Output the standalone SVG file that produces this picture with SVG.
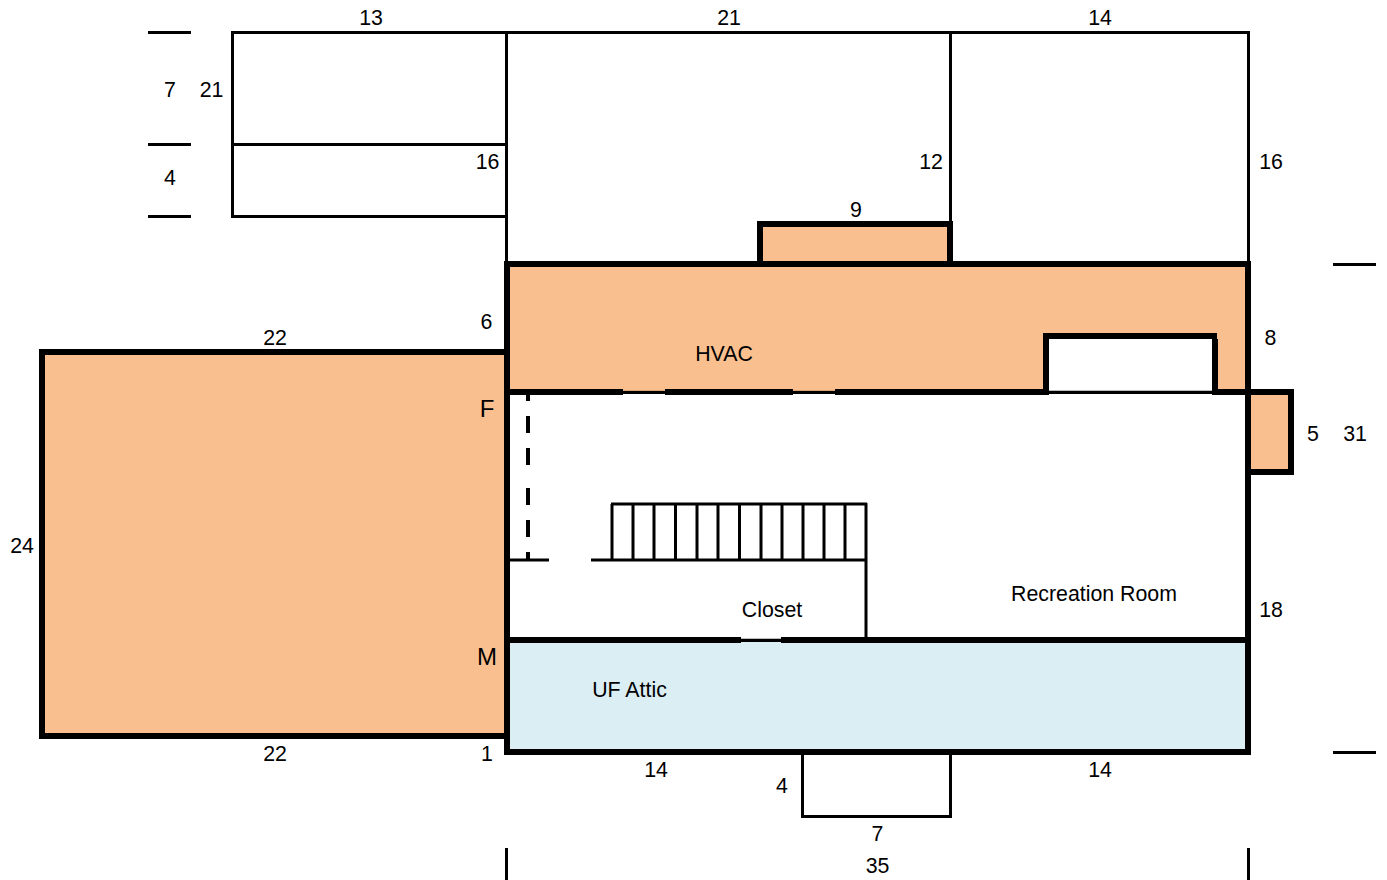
<svg xmlns="http://www.w3.org/2000/svg" width="1387" height="880" viewBox="0 0 1387 880">
<style>
text{font-family:"Liberation Sans",Arial,sans-serif;font-size:21.33px;fill:#000;text-anchor:middle}
.big{font-size:24px}
.t{fill:none;stroke:#000;stroke-width:3}
.o{fill:#f9bf8f;stroke:#000;stroke-width:6}
.b{fill:#daeef3;stroke:#000;stroke-width:6}
.h{fill:none;stroke:#000;stroke-width:6}
.g{fill:none;stroke:#000;stroke-width:3}
.e{fill:none;stroke:#bbb;stroke-width:1}
.br{fill:none;stroke:#d9a070;stroke-width:1}
</style>
<rect width="1387" height="880" fill="#fff"/>
<g id="upper-rooms">
<rect class="t" x="232.500" y="32.500" width="274" height="184"/>
<path class="t" d="M232 144.500H506"/>
<rect class="t" x="506.500" y="32.500" width="444" height="232"/>
<rect class="t" x="950.500" y="32.500" width="298" height="232"/>
</g>
<g id="left-wing"><rect class="o" x="42" y="352" width="465" height="384"/></g>
<g id="hvac">
<rect class="o" x="760" y="224" width="190" height="40"/>
<rect class="o" x="507" y="264" width="741" height="128"/>
<rect class="o" x="1248" y="392" width="43" height="80"/>
</g>
<g id="rec">
<rect x="510" y="391" width="735" height="249" fill="#fff"/>
<path d="M623 388H665V390H623ZM793 388H835V390H793Z" fill="#f9bf8f"/>
<path d="M1046 336H1215V391H1046Z" fill="#fff"/>
<path class="h" d="M1046 395V336H1217M1215 339V392"/>
<path class="h" d="M507 392H623M665 392H793M835 392H1049M1212 392H1248"/>
<path class="g" d="M623 392.500H665M793 392.500H835M1049 392.500H1212"/>
<path class="e" d="M1049 390.500H1212"/>
<path class="br" d="M623 390.500H665M793 390.500H835"/>
<path class="h" d="M1248 264V640"/>
<path class="h" d="M507 264V640"/>
<path d="M528 392V401M528 416V433M528 448V465M528 488V505M528 520V537M528 552V560" fill="none" stroke="#000" stroke-width="4"/>
<path class="t" d="M507 560H549M591 560H867M611 504H867M866 503V640M612 504V560M633 504V560M654 504V560M675.500 504V560M697 504V560M718 504V560M739.500 504V560M761 504V560M782 504V560M803 504V560M824 504V560M845 504V560"/>
</g>
<g id="attic">
<rect class="b" x="507" y="640" width="741" height="112"/>
<path d="M741 636H781V639H741Z" fill="#fff"/>
<path d="M741 639H781V642H741Z" fill="#000"/>
<path d="M741 642H781V643H741Z" fill="#daeef3"/>
<path class="e" d="M741 638.500H781"/>
</g>
<g id="porch"><path class="t" d="M802.500 752V816.500H950.500V752"/></g>
<g id="dimensions">
<path class="t" d="M148 32.500H191M148 144.500H191M148 216.500H191M1333 264.500H1376M1333 752.500H1376M506.500 848V880M1248.500 848V880"/>
</g>
<g id="labels">
<text x="371" y="24.500">13</text><text x="729" y="24.500">21</text><text x="1100" y="24.500">14</text>
<text x="170" y="96.500">7</text><text x="211.500" y="96.500">21</text><text x="170" y="184.500">4</text>
<text x="487.500" y="168.500">16</text><text x="931" y="168.500">12</text><text x="1271" y="168.500">16</text>
<text x="856" y="216.500">9</text><text x="486.500" y="328.500">6</text><text x="275" y="344.500">22</text><text x="1270.500" y="344.500">8</text>
<text x="724" y="360.500">HVAC</text><text class="big" x="487" y="416.500">F</text>
<text x="1313" y="440.500">5</text><text x="1355" y="440.500">31</text><text x="22" y="552.500">24</text>
<text x="1094" y="600.500">Recreation Room</text><text x="772" y="616.500">Closet</text><text x="1271" y="616.500">18</text>
<text class="big" x="487" y="664.500">M</text><text x="629.500" y="696.500">UF Attic</text>
<text x="275" y="760.500">22</text><text x="487" y="760.500">1</text><text x="656" y="776.500">14</text><text x="1100" y="776.500">14</text>
<text x="782" y="792.500">4</text><text x="877.500" y="840.500">7</text><text x="877.500" y="872.500">35</text>
</g>
</svg>
